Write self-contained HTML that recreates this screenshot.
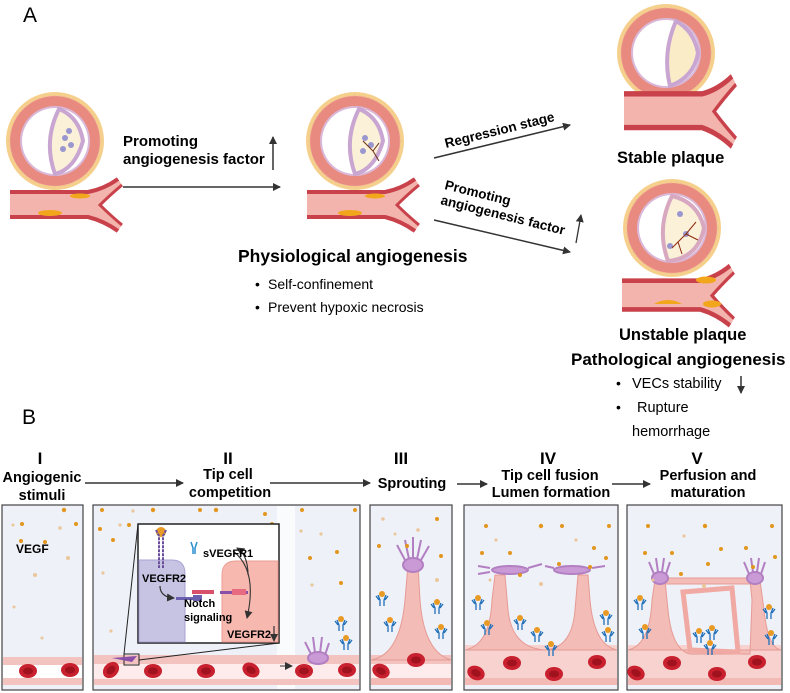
<!DOCTYPE html>
<html><head><meta charset="utf-8"><style>
html,body{margin:0;padding:0;background:#fff;width:790px;height:693px;overflow:hidden}
svg{display:block;font-family:"Liberation Sans",sans-serif}
.b{font-weight:bold}
</style></head><body>
<svg width="790" height="693" viewBox="0 0 790 693" xmlns="http://www.w3.org/2000/svg">
<defs>
<marker id="ah" markerWidth="8" markerHeight="8" refX="7" refY="4" orient="auto" markerUnits="userSpaceOnUse"><path d="M0,0 L8,4 L0,8 z" fill="#333"/></marker>
<g id="ring">
  <circle r="49" fill="#f5d08c"/>
  <circle r="45" fill="#e98a80"/>
  <circle r="45" fill="none" stroke="#f0a79b" stroke-width="1" stroke-dasharray="2 3"/>
  <circle r="35" fill="#d9b8d8"/>
  <circle r="33" fill="#fff"/>
</g>
<g id="vessel">
  <path d="M-50,51 L28,51 Q44,48 58,38 L62,44 Q50,54 40,64 Q50,74 62,84 L58,90 Q44,80 28,76 L-50,76 z" fill="#f2b4ac"/>
  <path d="M-50,51 L28,51 Q44,48 58,38" fill="none" stroke="#c9414a" stroke-width="4"/>
  <path d="M-50,76 L28,76 Q44,80 58,90" fill="none" stroke="#c9414a" stroke-width="4"/>
  <path d="M62,44 Q50,54 40,64 Q50,74 62,84" fill="none" stroke="#c9414a" stroke-width="3"/>
</g>
<g id="rbc"><ellipse rx="9" ry="7" fill="#c8202e"/><ellipse rx="5" ry="3.5" fill="#a0121e"/></g>
<g id="ab"><circle cx="0" cy="-3" r="3" fill="#e89a24"/><path d="M-4,-2 L-2,3 L-2,9 M4,-2 L2,3 L2,9 M-6,-1 L-3,3 M6,-1 L3,3" stroke="#1f6fb8" stroke-width="1.3" fill="none"/></g>
</defs>

<text x="23" y="22" font-size="21">A</text>

<g transform="translate(55,141)">
 <use href="#ring"/>
 <path d="M4,-32 Q-12,0 0,33 Q20,28 28,0 Q24,-24 4,-32z" fill="#fbf1d8" stroke="#c9a6d1" stroke-width="4"/>
 <circle cx="10" cy="-3" r="3" fill="#9a96cf"/><circle cx="16" cy="4" r="3" fill="#9a96cf"/><circle cx="8" cy="8" r="3" fill="#9a96cf"/><circle cx="14" cy="-10" r="3" fill="#9a96cf"/>
 <use href="#vessel" transform="translate(5,0)"/>
 <ellipse cx="25" cy="55" rx="10" ry="2.5" fill="#f2a61c"/><ellipse cx="-5" cy="72" rx="12" ry="3" fill="#f2a61c"/>
</g>
<g transform="translate(355,141)">
 <use href="#ring"/>
 <path d="M4,-32 Q-12,0 0,33 Q20,28 28,0 Q24,-24 4,-32z" fill="#fbf1d8" stroke="#c9a6d1" stroke-width="4"/>
 <circle cx="10" cy="-3" r="3" fill="#9a96cf"/><circle cx="16" cy="4" r="3" fill="#9a96cf"/><circle cx="8" cy="10" r="3" fill="#9a96cf"/>
 <path d="M8,0 L18,10 L24,20 M18,10 L24,2" stroke="#6b2a10" stroke-width="1" fill="none"/>
 <use href="#vessel" transform="translate(2,0)"/>
 <ellipse cx="20" cy="55" rx="10" ry="2.5" fill="#f2a61c"/><ellipse cx="-5" cy="72" rx="12" ry="3" fill="#f2a61c"/>
</g>
<g transform="translate(666,53)">
 <use href="#ring"/>
 <path d="M10,-32 Q-4,0 4,33 Q28,24 32,0 Q28,-22 10,-32z" fill="#fbecc8" stroke="#c9a6d1" stroke-width="4"/>
 <use href="#vessel" transform="translate(8,-28) scale(1,1.35)"/>
</g>
<g transform="translate(672,228)">
 <use href="#ring"/>
 <path d="M0,-32 Q-16,0 -4,33 Q26,30 32,0 Q26,-26 0,-32z" fill="#fbf1d8" stroke="#d7a8c0" stroke-width="4"/>
 <circle cx="8" cy="-14" r="3" fill="#9a96cf"/><circle cx="14" cy="6" r="3" fill="#9a96cf"/><circle cx="-2" cy="18" r="3" fill="#9a96cf"/>
 <path d="M0,20 L14,6 L24,-6 M14,6 L26,12 M6,14 L10,26" stroke="#8a2a10" stroke-width="1" fill="none"/>
 <use href="#vessel" transform="translate(0,-6) scale(1,1.15)"/>
 <path d="M-18,76 Q-4,68 10,76 Z" fill="#f2a61c"/><ellipse cx="34" cy="52" rx="10" ry="3.5" fill="#f2a61c"/><ellipse cx="40" cy="76" rx="9" ry="3.5" fill="#f2a61c"/>
</g>

<line x1="123" y1="187" x2="280" y2="187" stroke="#333" stroke-width="1.5" marker-end="url(#ah)"/>
<text x="123" y="146" font-size="15" class="b">Promoting</text>
<text x="123" y="164" font-size="15" class="b">angiogenesis factor</text>
<line x1="273" y1="170" x2="273" y2="137" stroke="#333" stroke-width="1.5" marker-end="url(#ah)"/>

<line x1="434" y1="158" x2="570" y2="125" stroke="#333" stroke-width="1.5" marker-end="url(#ah)"/>
<text transform="translate(446,148) rotate(-14)" font-size="13.5" class="b">Regression stage</text>
<line x1="434" y1="220" x2="570" y2="252" stroke="#333" stroke-width="1.5" marker-end="url(#ah)"/>
<text transform="translate(444,189) rotate(14)" font-size="13.5" class="b">Promoting</text>
<text transform="translate(440,204) rotate(14)" font-size="13.5" class="b">angiogenesis factor</text>
<line x1="576" y1="243" x2="581" y2="215" stroke="#333" stroke-width="1.3" marker-end="url(#ah)"/>

<text x="617" y="163" font-size="16.5" class="b">Stable plaque</text>
<text x="238" y="262" font-size="17.5" class="b">Physiological angiogenesis</text>
<text x="255" y="289" font-size="14">•</text><text x="268" y="289" font-size="14">Self-confinement</text>
<text x="255" y="312" font-size="14">•</text><text x="268" y="312" font-size="14">Prevent hypoxic necrosis</text>
<text x="619" y="340" font-size="16.5" class="b">Unstable plaque</text>
<text x="571" y="365" font-size="17" class="b">Pathological angiogenesis</text>
<text x="616" y="388" font-size="14">•</text><text x="632" y="388" font-size="14.5">VECs stability</text>
<line x1="741" y1="376" x2="741" y2="393" stroke="#333" stroke-width="1.5" marker-end="url(#ah)"/>
<text x="616" y="412" font-size="14">•</text><text x="637" y="412" font-size="14.5">Rupture</text>
<text x="632" y="436" font-size="14.5">hemorrhage</text>

<text x="22" y="424" font-size="21">B</text>

<g class="b" font-size="14.5" text-anchor="middle">
 <text x="40" y="464" font-size="17">I</text>
 <text x="42" y="482">Angiogenic</text><text x="42" y="500">stimuli</text>
 <text x="228" y="464" font-size="17">II</text>
 <text x="228" y="479">Tip cell</text><text x="230" y="497">competition</text>
 <text x="401" y="464" font-size="17">III</text>
 <text x="412" y="488">Sprouting</text>
 <text x="548" y="464" font-size="17">IV</text>
 <text x="550" y="480">Tip cell fusion</text><text x="551" y="497">Lumen formation</text>
 <text x="697" y="464" font-size="17">V</text>
 <text x="708" y="480">Perfusion and</text><text x="708" y="497">maturation</text>
</g>
<line x1="85" y1="483" x2="183" y2="483" stroke="#333" stroke-width="1.5" marker-end="url(#ah)"/>
<line x1="270" y1="483" x2="370" y2="483" stroke="#333" stroke-width="1.5" marker-end="url(#ah)"/>
<line x1="457" y1="484" x2="487" y2="484" stroke="#333" stroke-width="1.5" marker-end="url(#ah)"/>
<line x1="612" y1="484" x2="650" y2="484" stroke="#333" stroke-width="1.5" marker-end="url(#ah)"/>

<g stroke="#444" stroke-width="1.2" fill="#eff1f8">
 <rect x="2" y="505" width="81" height="185"/>
 <rect x="93" y="505" width="267" height="185"/>
 <rect x="370" y="505" width="82" height="185"/>
 <rect x="464" y="505" width="154" height="185"/>
 <rect x="627" y="505" width="155" height="185"/>
</g>
<rect x="277" y="506" width="18" height="183" fill="#fafbfd"/>

<g>
 <rect x="3" y="657" width="79" height="28" fill="#f3c3bf"/><rect x="3" y="665" width="79" height="13" fill="#fff"/>
 <rect x="94" y="655" width="265" height="30" fill="#f3c3bf"/><rect x="94" y="664" width="265" height="15" fill="#fdeceb"/>
 <rect x="371" y="655" width="80" height="30" fill="#f3c3bf"/><rect x="371" y="664" width="80" height="15" fill="#fdeceb"/>
 <rect x="465" y="645" width="152" height="40" fill="#f7d2cf"/><rect x="465" y="678" width="152" height="7" fill="#f3b9b4"/>
 <rect x="628" y="645" width="153" height="40" fill="#f7d2cf"/><rect x="628" y="678" width="153" height="7" fill="#f3b9b4"/>
 <rect x="371" y="678" width="80" height="7" fill="#f3b9b4"/>
</g>
<path d="M371,660 Q400,655 405,600 L408,565 L418,565 L420,600 Q424,652 451,660 Z" fill="#f3bcb6" stroke="#e69a94"/>
<path d="M465,650 Q490,645 492,600 L495,575 L505,575 L508,610 Q512,648 545,650 Q572,648 575,610 L578,575 L588,575 L590,600 Q594,645 617,650 Z" fill="#f3bcb6" stroke="#e69a94"/>
<path d="M628,650 Q650,645 652,600 L655,580 L665,580 L668,610 Q672,650 690,654 L750,654 L752,600 L750,580 L760,580 L764,610 Q768,648 781,650 Z" fill="#f3bcb6" stroke="#e69a94"/>
<rect x="665" y="578" width="85" height="6" fill="#f3bcb6" stroke="#e69a94"/>
<path d="M683,592 L732,588 L738,652 L690,650 Z" fill="#eff1f8" stroke="#f0a9a3" stroke-width="5"/>
<g fill="#c99ad5" stroke="#b27fc2" stroke-width="2">
 <ellipse cx="413" cy="565" rx="10" ry="7"/>
 <path d="M405,560 L397,545 M409,559 L405,540 M413,558 L413,537 M417,559 L421,540 M421,560 L429,546" fill="none"/>
 <ellipse cx="318" cy="658" rx="10" ry="6"/>
 <path d="M311,654 L305,642 M315,653 L313,637 M320,653 L322,637 M325,655 L329,643" fill="none"/>
 <ellipse cx="510" cy="570" rx="18" ry="4"/><ellipse cx="572" cy="570" rx="18" ry="4"/>
 <path d="M490,568 L478,566 M490,572 L478,574 M528,568 L542,564 M554,568 L545,566 M592,568 L605,566" fill="none"/>
 <ellipse cx="660" cy="578" rx="8" ry="6"/><ellipse cx="755" cy="578" rx="8" ry="6"/>
 <path d="M654,574 L649,562 M658,572 L656,558 M662,572 L664,558 M666,574 L670,562 M749,574 L744,562 M753,572 L751,558 M757,572 L759,558 M761,574 L765,562" fill="none"/>
</g>
<use href="#rbc" x="28" y="671"/><use href="#rbc" x="70" y="670"/>
<use href="#rbc" transform="translate(111,670) rotate(-45)"/><use href="#rbc" x="153" y="671"/><use href="#rbc" x="206" y="671"/>
<use href="#rbc" transform="translate(251,670) rotate(30)"/><use href="#rbc" x="304" y="671"/><use href="#rbc" x="347" y="670"/>
<use href="#rbc" transform="translate(381,671) rotate(25)"/><use href="#rbc" x="416" y="660"/>
<use href="#rbc" transform="translate(476,673) rotate(25)"/><use href="#rbc" x="512" y="663"/><use href="#rbc" x="554" y="674"/><use href="#rbc" x="597" y="662"/>
<use href="#rbc" transform="translate(636,673) rotate(25)"/><use href="#rbc" x="672" y="663"/><use href="#rbc" x="717" y="674"/><use href="#rbc" x="757" y="662"/>
<line x1="280" y1="666" x2="292" y2="666" stroke="#333" stroke-width="1" marker-end="url(#ah)"/>

<g fill="#e2961e">
 <circle cx="22" cy="524" r="2"/><circle cx="64" cy="510" r="2.2"/><circle cx="13" cy="525" r="1.5" fill="#e9c79a"/><circle cx="76" cy="524" r="2"/><circle cx="21" cy="541" r="2"/><circle cx="45" cy="542" r="2"/><circle cx="60" cy="528" r="1.8" fill="#e9c79a"/><circle cx="35" cy="575" r="2" fill="#e9c79a"/><circle cx="14" cy="607" r="1.5" fill="#e9c79a"/><circle cx="42" cy="638" r="1.5" fill="#e9c79a"/><circle cx="68" cy="558" r="2" fill="#e9c79a"/>
 <circle cx="102" cy="510" r="2"/><circle cx="153" cy="510" r="2.2"/><circle cx="200" cy="510" r="2"/><circle cx="216" cy="510" r="2.2"/><circle cx="265" cy="514" r="2"/><circle cx="272" cy="524" r="2"/><circle cx="100" cy="529" r="2"/><circle cx="113" cy="540" r="2"/><circle cx="120" cy="525" r="1.6" fill="#e9c79a"/><circle cx="129" cy="525" r="2"/><circle cx="103" cy="573" r="1.6" fill="#e9c79a"/><circle cx="111" cy="631" r="1.6" fill="#e9c79a"/><circle cx="133" cy="511" r="1.6" fill="#e9c79a"/>
 <circle cx="302" cy="510" r="2"/><circle cx="355" cy="510" r="2"/><circle cx="301" cy="531" r="1.6" fill="#e9c79a"/><circle cx="337" cy="552" r="2"/><circle cx="310" cy="558" r="2"/><circle cx="341" cy="583" r="2"/><circle cx="312" cy="585" r="1.6" fill="#e9c79a"/><circle cx="321" cy="534" r="1.6" fill="#e9c79a"/>
 <circle cx="383" cy="519" r="1.8" fill="#e9c79a"/><circle cx="437" cy="519" r="2"/><circle cx="379" cy="546" r="2"/><circle cx="407" cy="546" r="2"/><circle cx="441" cy="556" r="2"/><circle cx="418" cy="530" r="1.8" fill="#e9c79a"/><circle cx="437" cy="580" r="2" fill="#e9c79a"/><circle cx="395" cy="534" r="1.5" fill="#e9c79a"/>
 <circle cx="486" cy="526" r="2"/><circle cx="541" cy="526" r="2.2"/><circle cx="562" cy="526" r="2"/><circle cx="609" cy="526" r="2"/><circle cx="482" cy="553" r="2"/><circle cx="510" cy="553" r="2"/><circle cx="559" cy="564" r="2"/><circle cx="594" cy="548" r="2"/><circle cx="520" cy="575" r="2"/><circle cx="606" cy="558" r="2"/><circle cx="590" cy="567" r="2"/><circle cx="496" cy="540" r="1.6" fill="#e9c79a"/><circle cx="541" cy="584" r="2" fill="#e9c79a"/><circle cx="490" cy="580" r="1.5" fill="#e9c79a"/><circle cx="576" cy="540" r="1.6" fill="#e9c79a"/>
 <circle cx="648" cy="526" r="2"/><circle cx="705" cy="526" r="2.2"/><circle cx="772" cy="526" r="2"/><circle cx="645" cy="553" r="2"/><circle cx="672" cy="553" r="2"/><circle cx="721" cy="549" r="2"/><circle cx="746" cy="548" r="2"/><circle cx="775" cy="557" r="2"/><circle cx="708" cy="564" r="2"/><circle cx="681" cy="574" r="2"/><circle cx="753" cy="567" r="2"/><circle cx="684" cy="536" r="1.6" fill="#e9c79a"/><circle cx="704" cy="586" r="2" fill="#e9c79a"/><circle cx="653" cy="580" r="1.5" fill="#e9c79a"/>
</g>
<use href="#ab" x="382" y="597"/><use href="#ab" x="390" y="623"/><use href="#ab" x="437" y="605"/><use href="#ab" x="441" y="630"/>
<use href="#ab" x="341" y="622"/><use href="#ab" x="346" y="641"/>
<use href="#ab" x="478" y="601"/><use href="#ab" x="487" y="626"/><use href="#ab" x="520" y="621"/><use href="#ab" x="537" y="633"/><use href="#ab" x="551" y="647"/><use href="#ab" x="606" y="616"/><use href="#ab" x="608" y="633"/>
<use href="#ab" x="640" y="601"/><use href="#ab" x="645" y="630"/><use href="#ab" x="699" y="634"/><use href="#ab" x="712" y="631"/><use href="#ab" x="710" y="646"/><use href="#ab" x="769" y="610"/><use href="#ab" x="771" y="636"/>

<rect x="124" y="654" width="15" height="11" fill="none" stroke="#222" stroke-width="1"/>
<path d="M112,658 L137,656 L132,662 Z" fill="#8a4fa8"/>
<line x1="124" y1="654" x2="138" y2="524" stroke="#222" stroke-width="1"/>
<line x1="139" y1="660" x2="279" y2="643" stroke="#222" stroke-width="1"/>
<rect x="138" y="524" width="141" height="119" fill="#fff" stroke="#222" stroke-width="1.5"/>
<path d="M139,560 L172,560 Q185,560 185,574 L185,642 L139,642 Z" fill="#c7c3e2" stroke="#a9a3d4"/>
<path d="M278,561 L236,561 Q222,561 222,575 L222,642 L278,642 Z" fill="#f7b8b0" stroke="#eb9d94"/>
<circle cx="161" cy="532" r="5" fill="#e89a24"/>
<path d="M156,530 L159,536 L159,568 M166,530 L163,536 L163,568" stroke="#6b4f9c" stroke-width="2" fill="none" stroke-dasharray="3 1"/>
<path d="M191,542 L193,548 L193,554 M197,542 L195,548 L195,554" stroke="#2a8fd0" stroke-width="1.5" fill="none"/>
<rect x="192" y="590" width="22" height="4" fill="#d9506a"/><rect x="220" y="591" width="28" height="3" fill="#8a4fa8"/><rect x="232" y="589" width="14" height="6" fill="#e76b80"/>
<rect x="176" y="597" width="24" height="3" fill="#6b5fb0"/><rect x="193" y="595" width="9" height="6" fill="#6b5fb0"/>
<path d="M160,586 Q160,597 174,598" stroke="#333" stroke-width="1.2" fill="none" marker-end="url(#ah)"/>
<path d="M233,551 Q258,570 247,618" stroke="#333" stroke-width="1.1" fill="none" marker-end="url(#ah)"/>
<path d="M248,575 Q248,555 237,548" stroke="#333" stroke-width="1.1" fill="none" marker-end="url(#ah)"/>
<line x1="274" y1="626" x2="274" y2="641" stroke="#333" stroke-width="1.2" marker-end="url(#ah)"/>
<g class="b" font-size="11">
 <text x="203" y="557">sVEGFR1</text>
 <text x="142" y="582">VEGFR2</text>
 <text x="184" y="607">Notch</text>
 <text x="184" y="621">signaling</text>
 <text x="227" y="638">VEGFR2</text>
</g>
<text x="16" y="553" font-size="12" class="b">VEGF</text>
</svg>
</body></html>
